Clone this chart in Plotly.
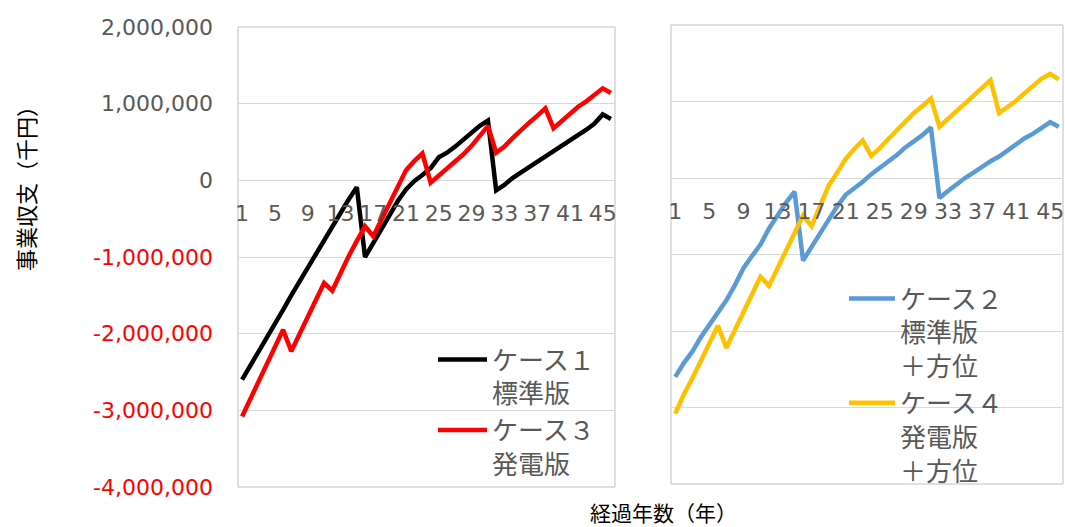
import plotly.graph_objects as go

years = list(range(1, 47))

case1 = [-2.60, -2.42, -2.25, -2.06, -1.88, -1.69, -1.50, -1.32, -1.13, -0.96,
         -0.78, -0.59, -0.42, -0.25, -0.09, -1.00, -0.82, -0.63, -0.45, -0.27,
         -0.12, -0.01, 0.07, 0.16, 0.30, 0.36, 0.44, 0.53, 0.62, 0.71,
         0.78, -0.13, -0.06, 0.03, 0.10, 0.17, 0.24, 0.30, 0.37, 0.44,
         0.51, 0.59, 0.66, 0.74, 0.86, 0.80]
case3 = [-3.08, -2.85, -2.62, -2.40, -2.17, -1.95, -2.23, -2.00, -1.78, -1.56,
         -1.34, -1.44, -1.20, -0.99, -0.79, -0.60, -0.73, -0.52, -0.30, -0.09,
         0.13, 0.25, 0.35, -0.03, 0.06, 0.15, 0.25, 0.34, 0.45, 0.58,
         0.71, 0.36, 0.44, 0.55, 0.66, 0.75, 0.84, 0.94, 0.68, 0.77,
         0.86, 0.96, 1.03, 1.12, 1.20, 1.14]
case2 = [-2.60, -2.42, -2.27, -2.08, -1.92, -1.76, -1.60, -1.40, -1.18, -1.02,
         -0.87, -0.66, -0.48, -0.32, -0.18, -1.08, -0.90, -0.72, -0.54, -0.37,
         -0.22, -0.14, -0.05, 0.05, 0.13, 0.21, 0.30, 0.40, 0.48, 0.56,
         0.66, -0.26, -0.17, -0.08, 0.00, 0.07, 0.15, 0.22, 0.28, 0.36,
         0.43, 0.52, 0.58, 0.66, 0.73, 0.67]
case4 = [-3.08, -2.83, -2.62, -2.40, -2.15, -1.93, -2.22, -1.98, -1.74, -1.50,
         -1.29, -1.41, -1.18, -0.98, -0.72, -0.49, -0.63, -0.35, -0.10, 0.07,
         0.25, 0.38, 0.49, 0.29, 0.39, 0.51, 0.62, 0.75, 0.85, 0.94,
         1.04, 0.67, 0.77, 0.87, 0.97, 1.07, 1.17, 1.28, 0.85, 0.93,
         1.01, 1.11, 1.21, 1.30, 1.36, 1.29]

names = ["ケース１<br>標準版", "ケース３<br>発電版", "ケース２<br>標準版<br>＋方位", "ケース４<br>発電版<br>＋方位"]
colors = ["#000000", "#FF0000", "#5B9BD5", "#FFC000"]

x_ticks = list(range(1, 47, 4))
y_ticks = [2e6, 1e6, 0, -1e6, -2e6, -3e6, -4e6]
y_labels = ["2,000,000", "1,000,000", "0", "-1,000,000", "-2,000,000", "-3,000,000", "-4,000,000"]

def scale(v):
    return [a * 1e6 for a in v]

W, H = 1065, 527
GRAY = "#595959"
TICKFONT = dict(family="DejaVu Sans", size=22, color=GRAY)
CJK = "Noto Sans CJK JP"

# domains (paper fractions)
lx = [238 / W, 615 / W]
rx = [671 / W, 1063 / W]
ly = [(H - 487) / H, (H - 27) / H]
ry = [(H - 484) / H, (H - 25) / H]

fig = go.Figure()
fig.add_trace(go.Scatter(x=years, y=scale(case1), mode="lines", name=names[0],
                         line=dict(color=colors[0], width=4.5), xaxis="x", yaxis="y", legend="legend"))
fig.add_trace(go.Scatter(x=years, y=scale(case3), mode="lines", name=names[1],
                         line=dict(color=colors[1], width=4.5), xaxis="x", yaxis="y", legend="legend"))
fig.add_trace(go.Scatter(x=years, y=scale(case2), mode="lines", name=names[2],
                         line=dict(color=colors[2], width=4.5), xaxis="x2", yaxis="y2", legend="legend2"))
fig.add_trace(go.Scatter(x=years, y=scale(case4), mode="lines", name=names[3],
                         line=dict(color=colors[3], width=4.5), xaxis="x2", yaxis="y2", legend="legend2"))

ticktext = []
for v, t in zip(y_ticks, y_labels):
    c = "#FF0000" if v < 0 else GRAY
    ticktext.append(f'<span style="color:{c}">{t}</span>')

def xpos(dom):
    return dom[0] + (4 / 6) * (dom[1] - dom[0])

common_x = dict(range=[0.5, 46.5], tickmode="array", tickvals=x_ticks,
                ticktext=[str(t) for t in x_ticks], showgrid=False, zeroline=False,
                showline=False, ticks="", tickfont=TICKFONT, anchor="free",
                ticklabelstandoff=18, automargin=False)
common_y = dict(range=[-4e6, 2e6], tickmode="array", tickvals=y_ticks,
                showgrid=True, gridcolor="#D9D9D9", gridwidth=1, zeroline=False,
                showline=False, ticks="", automargin=False)

fig.update_layout(
    width=W, height=H,
    margin=dict(l=0, r=0, t=0, b=0, autoexpand=False),
    paper_bgcolor="white", plot_bgcolor="white",
    showlegend=True,
    xaxis=dict(domain=lx, position=xpos(ly), **common_x),
    xaxis2=dict(domain=rx, position=xpos(ry), **common_x),
    yaxis=dict(domain=ly, anchor="x", ticktext=ticktext, tickfont=TICKFONT,
               ticklabelstandoff=24, **common_y),
    yaxis2=dict(domain=ry, anchor="x2", showticklabels=False, **common_y),
    legend=dict(x=433 / W, y=1 - 336 / H, xanchor="left", yanchor="top",
                bgcolor="rgba(0,0,0,0)", itemwidth=49, valign="top",
                font=dict(family=CJK, size=26, color=GRAY)),
    legend2=dict(x=844 / W, y=1 - 275 / H, xanchor="left", yanchor="top",
                 bgcolor="rgba(0,0,0,0)", itemwidth=46, valign="top",
                 font=dict(family=CJK, size=26, color=GRAY)),
    shapes=[
        dict(type="rect", xref="x domain", yref="y domain", x0=0, x1=1, y0=0, y1=1,
             line=dict(color="#BFBFBF", width=1), layer="below"),
        dict(type="rect", xref="x2 domain", yref="y2 domain", x0=0, x1=1, y0=0, y1=1,
             line=dict(color="#BFBFBF", width=1), layer="below"),
    ],
    annotations=[
        dict(text="事業収支（千円）", xref="paper", yref="paper", x=25 / W, y=1 - 183 / H,
             xanchor="center", yanchor="middle",
             textangle=-90, showarrow=False, font=dict(family=CJK, size=22, color="#000000")),
        dict(text="経過年数（年）", xref="paper", yref="paper", x=663 / W, y=1 - 512 / H,
             xanchor="center", yanchor="middle",
             showarrow=False, font=dict(family=CJK, size=21, color="#000000")),
    ],
)

fig.write_html("out.html")
